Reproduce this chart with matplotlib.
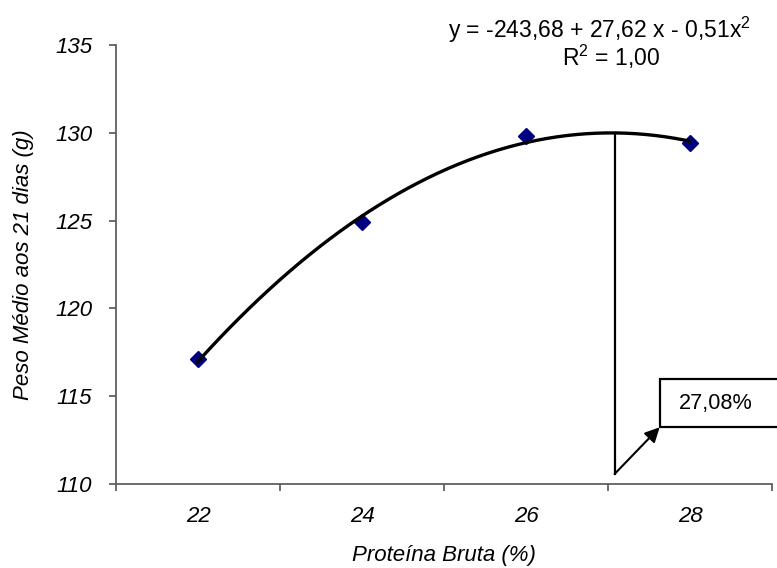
import numpy as np
import matplotlib
matplotlib.use("Agg")
import matplotlib.pyplot as plt
from matplotlib.patches import Rectangle

plt.rcParams['font.family'] = ['Liberation Sans', 'DejaVu Sans']
plt.rcParams['mathtext.fontset'] = 'custom'
plt.rcParams['mathtext.rm'] = 'Liberation Sans'

# data
proteina = [22, 24, 26, 28]
peso = [117.1, 124.9, 129.8, 129.4]
x_ticks = [21, 23, 25, 27, 29]
y_ticks = [110, 115, 120, 125, 130, 135]
otimo = 27.08
equacao = "y = -243,68 + 27,62 x - 0,51x$^\\mathregular{2}$"
r2_texto = "R$^\\mathregular{2}$ = 1,00"
otimo_texto = "27,08%"

fig = plt.figure(figsize=(7.77, 5.68), dpi=100)
ax = fig.add_axes([0.1493, 0.1479, 0.8443, 0.7729])

# second order trendline through the points
coef = np.polyfit(proteina, peso, 2)
xs = np.linspace(proteina[0], proteina[-1], 200)
ax.plot(xs, np.polyval(coef, xs), color='black', lw=2.4, zorder=4)
ax.plot(proteina, peso, linestyle='none', marker='D', ms=8.5,
        color='#000080', zorder=3)

# optimum marker line and callout
ax.plot([otimo, otimo], [110.57, np.polyval(coef, otimo)], color='black', lw=1.6, zorder=2)
ax.add_patch(Rectangle((27.63, 113.23), 2.5, 2.73, facecolor='white',
                       edgecolor='black', lw=1.6, clip_on=False, zorder=5))
ax.text(27.87, 114.6, otimo_texto, fontsize=15.6, va='center', ha='left', zorder=6)
ax.annotate('', xy=(27.63, 113.23), xytext=(otimo, 110.57),
            arrowprops=dict(arrowstyle='-|>', color='black', lw=1.5,
                            mutation_scale=22, shrinkA=0, shrinkB=0),
            annotation_clip=False, zorder=6)

ax.set_xlim(21, 29)
ax.set_ylim(110, 135)
ax.set_xticks(x_ticks)
ax.set_xticklabels([])
ax.set_xticks(proteina, minor=True)
ax.set_xticklabels([str(p) for p in proteina], minor=True, fontsize=16, style='italic')
ax.set_yticks(y_ticks)
ax.set_yticklabels([str(v) for v in y_ticks], fontsize=16, style='italic')

gray = '#606060'
for side in ['top', 'right']:
    ax.spines[side].set_visible(False)
for side in ['left', 'bottom']:
    ax.spines[side].set_color(gray)
    ax.spines[side].set_linewidth(1.3)
ax.tick_params(axis='x', which='major', direction='out', length=5, width=1.3, color=gray)
ax.tick_params(axis='x', which='minor', length=0, pad=16)
ax.tick_params(axis='y', direction='out', length=5, width=1.3, color=gray, pad=12)

ax.set_xlabel('Proteína Bruta (%)', fontsize=16, style='italic', labelpad=13)
ax.set_ylabel('Peso Médio aos 21 dias (g)', fontsize=16, style='italic', labelpad=15)

fig.text(599 / 777, 1 - 30 / 568, equacao, fontsize=16.5, ha='center', va='center')
fig.text(611 / 777, 1 - 57 / 568, r2_texto, fontsize=16.5, ha='center', va='center')

fig.savefig('out.png', dpi=100)
